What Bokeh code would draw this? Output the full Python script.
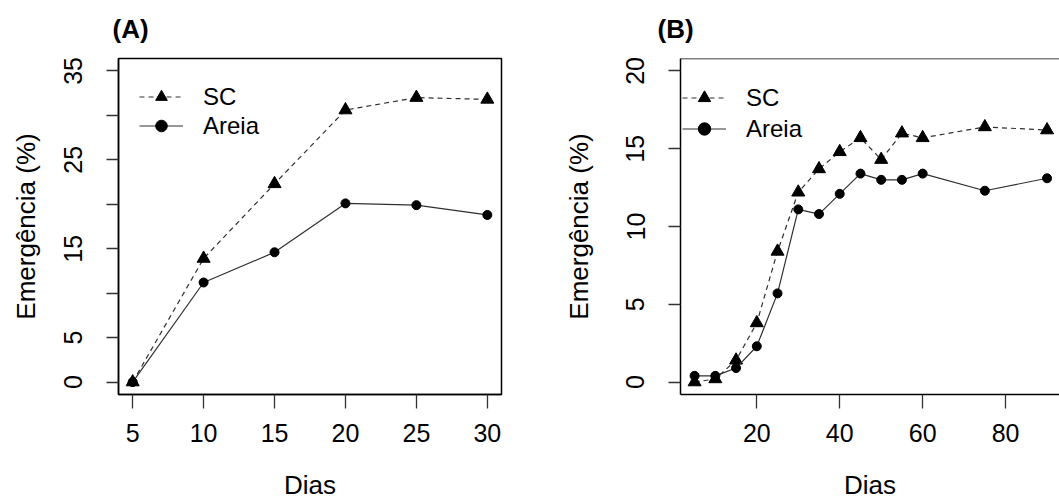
from bokeh.plotting import figure
from bokeh.models import FixedTicker, Legend, LegendItem, Range1d, Span
from bokeh.layouts import row
from bokeh.embed import file_html
from bokeh.resources import INLINE

# ---- data ----
dias_a = [5, 10, 15, 20, 25, 30]
sc_a = [0.0, 13.9, 22.3, 30.6, 32.0, 31.8]
areia_a = [0.0, 11.2, 14.6, 20.1, 19.9, 18.8]

dias_b = [5, 10, 15, 20, 25, 30, 35, 40, 45, 50, 55, 60, 75, 90]
sc_b = [0.0, 0.2, 1.4, 3.8, 8.4, 12.2, 13.7, 14.8, 15.7, 14.3, 16.0, 15.7, 16.4, 16.2]
areia_b = [0.4, 0.4, 0.9, 2.3, 5.7, 11.1, 10.8, 12.1, 13.4, 13.0, 13.0, 13.4, 12.3, 13.1]

xticks_a = [5, 10, 15, 20, 25, 30]
yticks_a = [0, 5, 10, 15, 20, 25, 30, 35]
yhidden_a = [10, 20, 30]
xticks_b = [20, 40, 60, 80, 100]
yticks_b = [0, 5, 10, 15, 20]

FONT = "Liberation Sans"
LINE_COL = "#303030"


def make_panel(title, x, sc, ar, xr, yr, xt, yt, yhide, w, h, bl, br,
               ylab_standoff, leg_loc, leg_h, use_outline, title_dx):
    p = figure(width=w, height=h, x_range=Range1d(*xr), y_range=Range1d(*yr),
               output_backend="svg", toolbar_location=None,
               min_border_left=bl, min_border_right=br,
               min_border_top=58, min_border_bottom=109)
    p.title.text = title
    p.title.text_font = FONT
    p.title.text_font_size = "26px"
    p.title.text_font_style = "bold"
    p.title.text_color = "black"
    p.title.align = "left"
    p.title.vertical_align = "top"
    p.title.offset = title_dx
    p.title.standoff = 26
    p.grid.visible = False
    p.background_fill_color = "white"
    p.border_fill_color = "white"
    if use_outline:
        p.outline_line_color = "black"
        p.outline_line_width = 1.5
    else:
        p.outline_line_alpha = 0
        p.add_layout(Span(location=yr[1], dimension="width",
                          line_color="black", line_width=1.5))

    for ax in (p.xaxis[0], p.yaxis[0]):
        ax.axis_line_color = "black"
        ax.axis_line_width = 1.5
        ax.major_tick_line_color = "#333333"
        ax.major_tick_line_width = 1.3
        ax.major_tick_in = 0
        ax.minor_tick_line_color = None
        ax.major_label_text_font = FONT
        ax.major_label_text_font_size = "25px"
        ax.major_label_text_color = "black"
        ax.axis_label_text_font = FONT
        ax.axis_label_text_font_size = "26px"
        ax.axis_label_text_font_style = "normal"
        ax.axis_label_text_color = "black"

    p.xaxis.ticker = FixedTicker(ticks=xt)
    p.xaxis.major_tick_out = 14
    p.xaxis.major_label_standoff = 15
    p.xaxis.axis_label = "Dias"
    p.xaxis.axis_label_standoff = 25

    p.yaxis.ticker = FixedTicker(ticks=yt)
    p.yaxis.major_tick_out = 12
    p.yaxis.major_label_orientation = "vertical"
    p.yaxis.major_label_standoff = 24
    p.yaxis.major_label_overrides = {v: "" for v in yhide}
    p.yaxis.axis_label = "Emergência (%)"
    p.yaxis.axis_label_standoff = ylab_standoff

    l1 = p.line(x, sc, line_color=LINE_COL, line_width=1.2, line_dash="5 4")
    s1 = p.scatter(x, sc, marker="triangle", size=13, fill_color="black",
                   line_color="black")
    l2 = p.line(x, ar, line_color=LINE_COL, line_width=1.2)
    s2 = p.scatter(x, ar, marker="circle", size=9, fill_color="black",
                   line_color="black")

    leg = Legend(items=[LegendItem(label="SC", renderers=[l1, s1]),
                        LegendItem(label="Areia", renderers=[l2, s2])],
                 location=leg_loc, glyph_width=44, glyph_height=leg_h,
                 label_height=leg_h, spacing=0, padding=0, margin=0,
                 label_standoff=20, border_line_alpha=0,
                 background_fill_alpha=0, label_text_font=FONT,
                 label_text_font_size="24px", label_text_color="black")
    p.add_layout(leg)
    return p


pa = make_panel("(A)", dias_a, sc_a, areia_a, (4.0, 31.0), (-1.4, 36.4),
                xticks_a, yticks_a, yhidden_a, 530, 503, 118, 29,
                21, (21, 254), 29, True, -6)
pb = make_panel("(B)", dias_b, sc_b, areia_b, (1.6, 93.0), (-0.8, 20.8),
                xticks_b, yticks_b, [], 529, 503, 150, 0,
                30, (2, 250), 31, False, -23)

layout = row(pa, pb)
open("out.html", "w").write(file_html(layout, INLINE))
